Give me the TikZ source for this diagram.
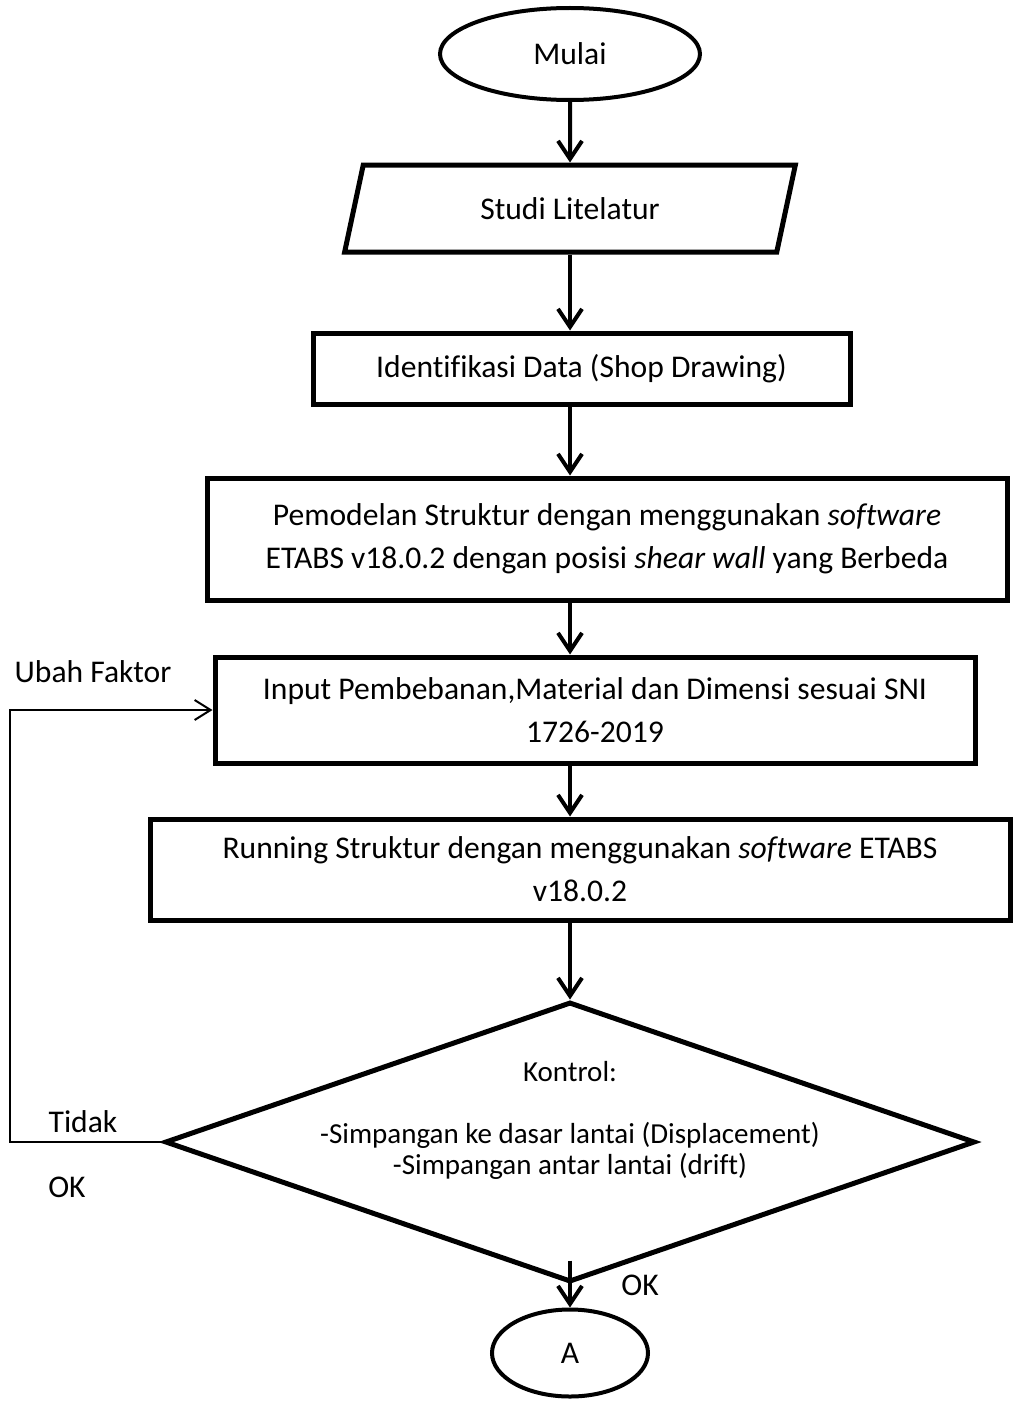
\documentclass[tikz,border=0pt]{standalone}
\usepackage{fontspec}
\setmainfont{Carlito}[Ligatures=CommonOff]
\usetikzlibrary{arrows.meta,positioning,shapes.geometric}

\begin{document}
\begin{tikzpicture}[
  x=0.5pt,y=-0.5pt,
  every node/.style={font=\fontsize{15.8}{21.5}\selectfont,align=center,inner sep=0pt},
  box/.style={draw,line width=2.5pt},
  term/.style={draw,ellipse,line width=2pt},
  io/.style={draw,trapezium,trapezium left angle=70,trapezium right angle=110,
    trapezium stretches=true,line width=2.5pt},
  decision/.style={draw,diamond,line width=2.5pt},
  arrow/.style={-{Straight Barb[length=9pt,width=12pt]},line width=2pt},
  back/.style={-{Straight Barb[length=8pt,width=10pt]},line width=1pt}
]
\useasboundingbox (0,0) rectangle (1014,1402);
\coordinate (spine) at (570,0);

\node[term,minimum width=130pt,minimum height=46pt] (start) at (570,54) {Mulai};
\node[io,minimum width=226pt,minimum height=43.5pt] (lit) at (570,208.5) {Studi Litelatur};
\node[box,minimum width=268.5pt,minimum height=35.5pt] (data) at (581.5,368.5) {Identifikasi Data (Shop Drawing)};
\node[box,minimum width=400pt,minimum height=61pt] (model) at (607,539)
  {Pemodelan Struktur dengan menggunakan \textit{software}\\ETABS v18.0.2 dengan posisi \textit{shear wall} yang Berbeda};
\node[box,minimum width=380pt,minimum height=53pt] (input) at (595,710)
  {Input Pembebanan,Material dan Dimensi sesuai SNI\\1726-2019};
\node[box,minimum width=430pt,minimum height=50.5pt] (run) at (580,869.5)
  {Running Struktur dengan menggunakan \textit{software} ETABS\\v18.0.2};
\node[decision,minimum width=405pt,minimum height=140pt] (ctl) at (570,1142) {};
\node[font=\fontsize{14.5}{15.5}\selectfont] (ctltxt) at (570,1120)
  {Kontrol:\\[15.5pt]-Simpangan ke dasar lantai (Displacement)\\-Simpangan antar lantai (drift)};
\node[term,minimum width=78pt,minimum height=43.5pt] (a) at (570,1353) {A};

\node (ubah) at (93,672) {Ubah Faktor};
\node (tidak) at (83,1122) {Tidak};
\node (okleft) at (67,1187) {OK};
\node (okdown) at (640,1285) {OK};

\draw[arrow] (start) -- (lit);
\draw[arrow] (lit) -- (spine |- data.north);
\draw[arrow] (spine |- data.south) -- (spine |- model.north);
\draw[arrow] (spine |- model.south) -- (spine |- input.north);
\draw[arrow] (spine |- input.south) -- (spine |- run.north);
\draw[arrow] (spine |- run.south) -- (ctl.north);
\draw[arrow] ([yshift=12pt]ctl.south) -- (a.north);

\coordinate (fb) at (10,1142);
\draw[back] (ctl.west) -- (fb) |- (input.west);
\end{tikzpicture}
\end{document}
